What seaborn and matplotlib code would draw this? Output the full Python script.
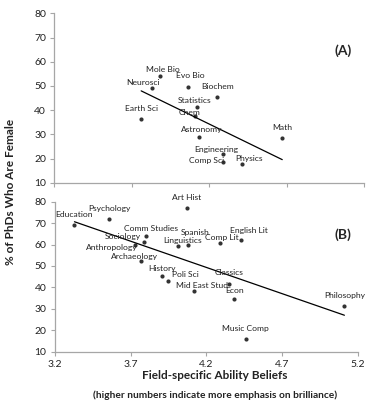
import matplotlib
matplotlib.use("Agg")
import matplotlib.pyplot as plt
import seaborn as sns
import pandas as pd

# panel A: STEM fields
fields_a = ["Mole Bio", "Neurosci", "Evo Bio", "Biochem", "Statistics", "Chem",
            "Earth Sci", "Astronomy", "Math", "Engineering", "Comp Sci", "Physics"]
beliefs_a = [3.88, 3.83, 4.06, 4.25, 4.12, 4.11, 3.76, 4.13, 4.67, 4.29, 4.29, 4.41]
female_a = [54.2, 49.2, 49.7, 45.3, 41.4, 37.7, 36.2, 29.0, 28.5, 22.0, 18.4, 17.8]

# panel B: social sciences and humanities
fields_b = ["Education", "Psychology", "Art Hist", "Comm Studies", "Sociology",
            "Anthropology", "Archaeology", "Linguistics", "Spanish", "Comp Lit",
            "English Lit", "History", "Poli Sci", "Mid East Stud", "Classics",
            "Econ", "Philosophy", "Music Comp"]
beliefs_b = [3.33, 3.56, 4.07, 3.80, 3.79, 3.73, 3.77, 4.01, 4.08, 4.29,
             4.43, 3.91, 3.95, 4.12, 4.35, 4.38, 5.11, 4.46]
female_b = [69.2, 72.0, 77.0, 64.2, 61.2, 60.0, 52.3, 59.2, 60.0, 60.8,
            62.2, 45.1, 43.1, 38.2, 41.8, 34.5, 31.4, 16.0]

xticks = [3.2, 3.7, 4.2, 4.7, 5.2]
yticks = [10, 20, 30, 40, 50, 60, 70, 80]

# label offsets in pixels (dx, dy), default is centred above the dot
offsets = {
    "Mole Bio": (3, 6), "Evo Bio": (3, 11), "Neurosci": (-9, 5),
    "Statistics": (-2, 6), "Chem": (-6, 3), "Astronomy": (3, 7),
    "Engineering": (-7, 4), "Comp Sci": (-17, 2), "Physics": (7, 5),
    "Comm Studies": (5, 7), "Sociology": (-21, 5), "Anthropology": (-23, -3),
    "Archaeology": (-7, 5), "Linguistics": (5, 6), "Spanish": (7, 12),
    "Comp Lit": (2, 5), "English Lit": (8, 9), "History": (0, 8),
    "Poli Sci": (17, 6), "Mid East Stud": (8, 6), "Classics": (0, 11),
    "Econ": (1, 9),
}

sns.set_style("white")
plt.rcParams["font.family"] = ["Lato", "DejaVu Sans"]

fig = plt.figure(figsize=(3.75, 4.13), dpi=100)
ax_a = fig.add_axes([0.145, 0.5576, 0.8267, 0.410])
ax_b = fig.add_axes([0.146, 0.1484, 0.8088, 0.3632])

grey = "#a6a6a6"


def draw_panel(ax, fields, xs, ys, tag, tag_x, show_xlabels):
    df = pd.DataFrame({"field": fields, "belief": xs, "female": ys})
    sns.regplot(data=df, x="belief", y="female", ax=ax, ci=None, color="black",
                scatter_kws={"s": 9, "linewidths": 0},
                line_kws={"lw": 0.9})
    for f, x, y in zip(fields, xs, ys):
        dx, dy = offsets.get(f, (0, 10.5))
        ax.annotate(f, (x, y), xytext=(dx, dy), textcoords="offset pixels",
                    ha="center", va="center", fontsize=6.1, color="#222222")
    ax.set_xlim(3.2, 5.2)
    ax.set_ylim(10, 80)
    ax.set_xticks(xticks)
    ax.set_yticks(yticks)
    if show_xlabels:
        ax.set_xticklabels([str(t) for t in xticks])
    else:
        ax.set_xticklabels([])
    ax.set_xlabel("")
    ax.set_ylabel("")
    for side in ["top", "right"]:
        ax.spines[side].set_visible(False)
    for side in ["left", "bottom"]:
        ax.spines[side].set_color(grey)
        ax.spines[side].set_linewidth(0.9)
    ax.tick_params(axis="both", which="major", direction="out", length=3,
                   width=0.8, color=grey, labelsize=7.5, pad=3,
                   labelcolor="#222222", left=True, bottom=True)
    ax.text(tag_x, 0.78, tag, transform=ax.transAxes, ha="center",
            va="center", fontsize=10, fontweight="bold")


draw_panel(ax_a, fields_a, beliefs_a, female_a, "(A)", 0.93, False)
draw_panel(ax_b, fields_b, beliefs_b, female_b, "(B)", 0.95, True)

fig.text(0.028, 0.535, "% of PhDs Who Are Female", rotation=90, ha="center",
         va="center", fontsize=8.5, fontweight="bold", color="#222222")
fig.text(0.573, 0.092, "Field-specific Ability Beliefs", ha="center",
         va="center", fontsize=8.5, fontweight="bold", color="#222222")
fig.text(0.573, 0.043, "(higher numbers indicate more emphasis on brilliance)",
         ha="center", va="center", fontsize=7.3, fontweight="bold",
         color="#222222")

fig.savefig("out.png", dpi=100)
